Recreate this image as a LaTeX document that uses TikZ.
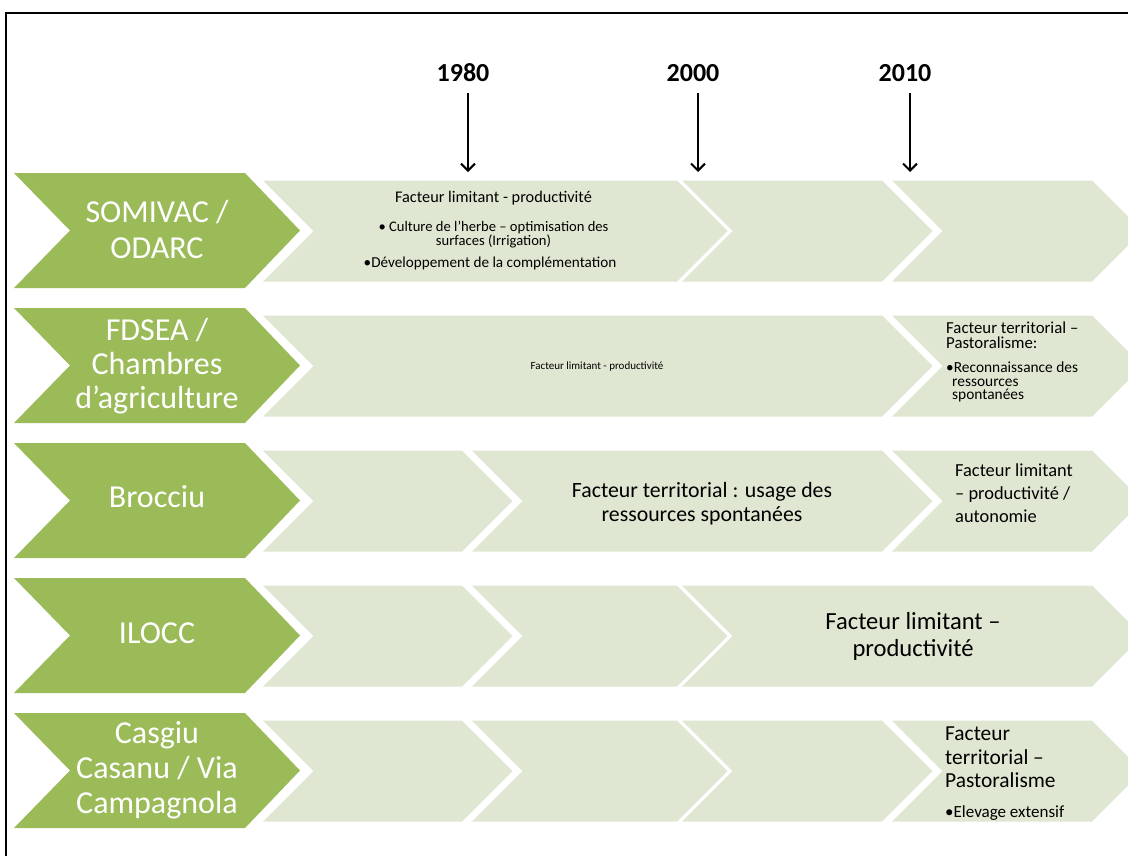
\documentclass[tikz,border=0pt]{standalone}
\usepackage{fontspec}
\setmainfont{Carlito}
\usetikzlibrary{arrows.meta}
\definecolor{gdark}{HTML}{9BBB59}
\definecolor{glight}{HTML}{DFE7D2}
\newcommand\lightchev[3]{%
  \fill[glight] ({#1},{#3+7.5}) -- ({#2},{#3+7.5}) -- ({#2+50.5},{#3+58}) -- ({#2},{#3+108.5}) -- ({#1},{#3+108.5}) -- ({#1+50.5},{#3+58}) -- cycle;}
\newcommand\greenchev[1]{%
  \fill[gdark] (14,{#1}) -- (245,{#1}) -- (300,{#1+57.5}) -- (245,{#1+115}) -- (14,{#1+115}) -- (70,{#1+57.5}) -- cycle;}
\tikzset{
  lbl/.style={text=white, inner sep=0pt, anchor=base, font=\fontsize{32}{34}\selectfont},
  yearlbl/.style={inner sep=0pt, anchor=base, font=\fontsize{26}{28}\selectfont\bfseries},
  yarrow/.style={line width=2pt, -{Straight Barb[length=7pt,width=14pt,line width=2pt]}},
  txt/.style={inner sep=0pt, anchor=base, text=black},
  txtl/.style={inner sep=0pt, anchor=base west, text=black},
}
\begin{document}
\begin{tikzpicture}[x=1pt,y=-1pt]
\useasboundingbox (0,0) rectangle (1128,855);
\clip (0,0) rectangle (1128,855);
\fill[white] (0,0) rectangle (1128,855);
\draw[line width=2pt] (6,857) -- (6,13) -- (1130,13);

% years
\node[yearlbl] (y1980) at (463,81.5) {1980};
\node[yearlbl] (y2000) at (693,81.5) {2000};
\node[yearlbl] (y2010) at (905,81.5) {2010};
\coordinate (a1s) at (468,93);  \coordinate (a1e) at (468,172);
\coordinate (a2s) at (698,93);  \coordinate (a2e) at (698,172);
\coordinate (a3s) at (910,93);  \coordinate (a3e) at (910,172);
\draw[yarrow] (a1s) -- (a1e);
\draw[yarrow] (a2s) -- (a2e);
\draw[yarrow] (a3s) -- (a3e);

% row 1
\greenchev{173}
\lightchev{263}{677}{173}
\lightchev{682}{882}{173}
\lightchev{892}{1092}{173}
% row 2
\greenchev{308}
\lightchev{263}{882}{308}
\lightchev{892}{1092}{308}
% row 3
\greenchev{443}
\lightchev{263}{462}{443}
\lightchev{472}{882}{443}
\lightchev{892}{1092}{443}
% row 4
\greenchev{578}
\lightchev{263}{462}{578}
\lightchev{472}{677}{578}
\lightchev{682}{1092}{578}
% row 5
\greenchev{713}
\lightchev{263}{462}{713}
\lightchev{472}{677}{713}
\lightchev{682}{882}{713}
\lightchev{892}{1092}{713}

% green labels
\node[lbl] (l1a) at (157,222.5) {SOMIVAC /};
\node[lbl] (l1b) at (157,258.5) {ODARC};
\node[lbl] (l2a) at (157,340) {FDSEA /};
\node[lbl] (l2b) at (157,374.5) {Chambres};
\node[lbl] (l2c) at (157,408) {d’agriculture};
\node[lbl] (l3) at (157,507.5) {Brocciu};
\node[lbl] (l4) at (157,643) {ILOCC};
\node[lbl] (l5a) at (157,743.5) {Casgiu};
\node[lbl] (l5b) at (157,778.5) {Casanu / Via};
\node[lbl] (l5c) at (157,813.5) {Campagnola};

% row 1 texts
\node[txt, font=\fontsize{16.3}{18}\selectfont] (t1a) at (493.5,202) {Facteur limitant - productivité};
\node[txt, font=\fontsize{14.6}{16}\selectfont] (t1b) at (493.5,231) {• Culture de l’herbe – optimisation des};
\node[txt, font=\fontsize{14.6}{16}\selectfont] (t1c) at (493.5,245.5) {surfaces (Irrigation)};
\node[txt, font=\fontsize{15.2}{16}\selectfont] (t1d) at (490,267) {•Développement de la complémentation};

% row 2 texts
\node[txt, font=\fontsize{11}{12}\selectfont] (t2a) at (597,369.5) {Facteur limitant - productivité};
\node[txtl, font=\fontsize{16.8}{18}\selectfont] (t2b) at (946,333) {Facteur territorial –};
\node[txtl, font=\fontsize{16.8}{18}\selectfont] (t2c) at (946,348.5) {Pastoralisme:};
\node[txtl, font=\fontsize{15.4}{16}\selectfont] (t2d) at (946,372.5) {•Reconnaissance des};
\node[txtl, font=\fontsize{15.4}{16}\selectfont] (t2e) at (952,386) {ressources};
\node[txtl, font=\fontsize{15.4}{16}\selectfont] (t2f) at (952,399.5) {spontanées};

% row 3 texts
\node[txt, font=\fontsize{21.8}{24}\selectfont] (t3a) at (702,497) {Facteur territorial : usage des};
\node[txt, font=\fontsize{21.8}{24}\selectfont] (t3b) at (702,521) {ressources spontanées};
\node[txtl, font=\fontsize{18.4}{20}\selectfont] (t3c) at (955,476) {Facteur limitant};
\node[txtl, font=\fontsize{18.4}{20}\selectfont] (t3d) at (955,499) {– productivité /};
\node[txtl, font=\fontsize{18.4}{20}\selectfont] (t3e) at (955,522) {autonomie};

% row 4 texts
\node[txt, font=\fontsize{24.6}{26}\selectfont] (t4a) at (913,629) {Facteur limitant –};
\node[txt, font=\fontsize{24.6}{26}\selectfont] (t4b) at (913,656) {productivité};

% row 5 texts
\node[txtl, font=\fontsize{21.4}{23}\selectfont] (t5a) at (945,740) {Facteur};
\node[txtl, font=\fontsize{21.4}{23}\selectfont] (t5b) at (945,764) {territorial –};
\node[txtl, font=\fontsize{21.4}{23}\selectfont] (t5c) at (945,787) {Pastoralisme};
\node[txtl, font=\fontsize{17}{18}\selectfont] (t5d) at (945,817) {•Elevage extensif};
\end{tikzpicture}
\end{document}
